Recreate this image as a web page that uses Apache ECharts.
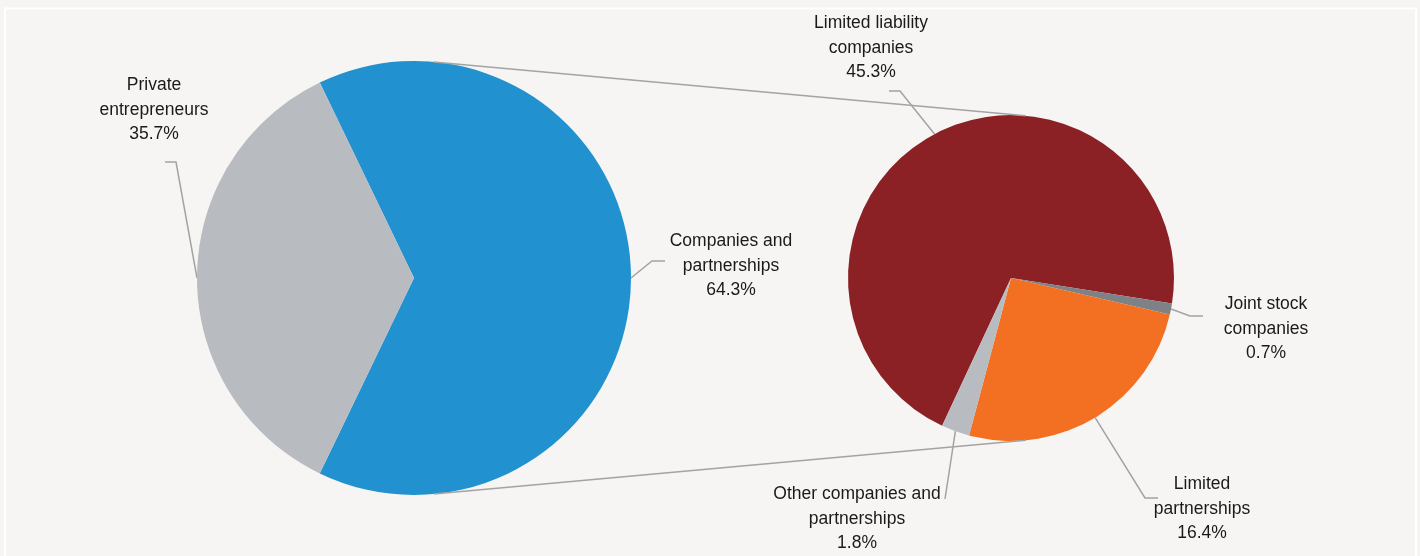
<!DOCTYPE html>
<html>
<head>
<meta charset="utf-8">
<script src="https://cdn.jsdelivr.net/npm/echarts@6/dist/echarts.min.js"></script>
<style>
html,body{margin:0;padding:0;background:#f6f5f3;}
#chart{width:1420px;height:556px;}
</style>
</head>
<body>
<div id="chart"></div>
<script>
// ---- data ----
const leftCats = ['Companies and partnerships', 'Private entrepreneurs'];
const leftLabels = ['Companies and\npartnerships', 'Private\nentrepreneurs'];
const leftValues = [64.3, 35.7];

const rightCats = ['Limited liability companies', 'Joint stock companies', 'Limited partnerships', 'Other companies and partnerships'];
const rightLabels = ['Limited liability\ncompanies', 'Joint stock\ncompanies', 'Limited\npartnerships', 'Other companies and\npartnerships'];
const rightValues = [45.3, 0.7, 16.4, 1.8];

// ---- layout / style ----
const LC = [414, 278], LR = 217;
const RC = [1011, 278], RR = 163;
const leftColors = ['#2191cf', '#b8bcc0'];
const rightColors = ['#8b2125', '#7e8185', '#f36f21', '#b8bcc0'];
const lineColor = '#a3a3a3';

// label placement offsets relative to pie centers: t = text centre, e = elbow, f = end
const leftPos = [
  {t: [317, -12], e: [238, -17], f: [251, -17]},
  {t: [-260, -168], e: [-238, -116], f: [-249, -116]}
];
const rightPos = [
  {t: [-140, -230], e: [-111, -187], f: [-122, -187]},
  {t: [255, 51], e: [179, 38], f: [192, 38]},
  {t: [191, 231], e: [134, 220], f: [147, 220]},
  {t: [-154, 241], e: [-66, 221], f: [-66, 221]}
];

const sum = a => a.reduce((s, v) => s + v, 0);
const leftStart = 180 - (leftValues[1] / sum(leftValues)) * 180;
const rightStart = 245;

function midPoint(values, idx, start, C, R) {
  const tot = sum(values);
  let cum = 0;
  for (let i = 0; i < idx; i++) cum += values[i];
  const a = (start - (cum + values[idx] / 2) / tot * 360) * Math.PI / 180;
  return [C[0] + R * Math.cos(a), C[1] - R * Math.sin(a)];
}

function makeLayout(values, start, C, R, pos) {
  return function (params) {
    const p = pos[params.dataIndex];
    const s = midPoint(values, params.dataIndex, start, C, R);
    return {
      x: C[0] + p.t[0],
      y: C[1] + p.t[1],
      align: 'center',
      verticalAlign: 'middle',
      labelLinePoints: [s, [C[0] + p.e[0], C[1] + p.e[1]], [C[0] + p.f[0], C[1] + p.f[1]]]
    };
  };
}

const labelStyle = {
  show: true,
  position: 'outside',
  fontFamily: '"Liberation Sans", Arial, sans-serif',
  fontSize: 17.5,
  lineHeight: 24.5,
  color: '#1a1a1a',
  align: 'center'
};

// tangent connector lines
const d = RC[0] - LC[0];
const th = Math.asin((LR - RR) / d);
const phi = Math.PI / 2 - th;
const topL = [LC[0] + LR * Math.cos(phi), LC[1] - LR * Math.sin(phi)];
const topR = [RC[0] + RR * Math.cos(phi), RC[1] - RR * Math.sin(phi)];
const botL = [LC[0] + LR * Math.cos(phi), LC[1] + LR * Math.sin(phi)];
const botR = [RC[0] + RR * Math.cos(phi), RC[1] + RR * Math.sin(phi)];

const chart = echarts.init(document.getElementById('chart'));
chart.setOption({
  backgroundColor: '#f6f5f3',
  animation: false,
  graphic: [
    {type: 'rect', shape: {x: 5, y: 8.5, width: 1411, height: 600}, style: {fill: 'none', stroke: '#ffffff', lineWidth: 2}, z: 0},
    {type: 'line', shape: {x1: topL[0], y1: topL[1], x2: topR[0], y2: topR[1]}, style: {stroke: lineColor, lineWidth: 1.5}, z: 10},
    {type: 'line', shape: {x1: botL[0], y1: botL[1], x2: botR[0], y2: botR[1]}, style: {stroke: lineColor, lineWidth: 1.5}, z: 10}
  ],
  series: [
    {
      type: 'pie',
      center: LC,
      radius: LR,
      startAngle: leftStart,
      clockwise: true,
      avoidLabelOverlap: false,
      emphasis: {disabled: true},
      itemStyle: {borderWidth: 0},
      label: Object.assign({}, labelStyle, {
        formatter: p => leftLabels[p.dataIndex] + '\n' + leftValues[p.dataIndex].toFixed(1) + '%'
      }),
      labelLine: {show: true, lineStyle: {color: lineColor, width: 1.5}},
      labelLayout: makeLayout(leftValues, leftStart, LC, LR, leftPos),
      data: leftCats.map((n, i) => ({name: n, value: leftValues[i], itemStyle: {color: leftColors[i]}}))
    },
    {
      type: 'pie',
      center: RC,
      radius: RR,
      startAngle: rightStart,
      clockwise: true,
      avoidLabelOverlap: false,
      emphasis: {disabled: true},
      itemStyle: {borderWidth: 0},
      label: Object.assign({}, labelStyle, {
        formatter: p => rightLabels[p.dataIndex] + '\n' + rightValues[p.dataIndex].toFixed(1) + '%'
      }),
      labelLine: {show: true, lineStyle: {color: lineColor, width: 1.5}},
      labelLayout: makeLayout(rightValues, rightStart, RC, RR, rightPos),
      data: rightCats.map((n, i) => ({name: n, value: rightValues[i], itemStyle: {color: rightColors[i]}}))
    }
  ]
});
</script>
</body>
</html>
